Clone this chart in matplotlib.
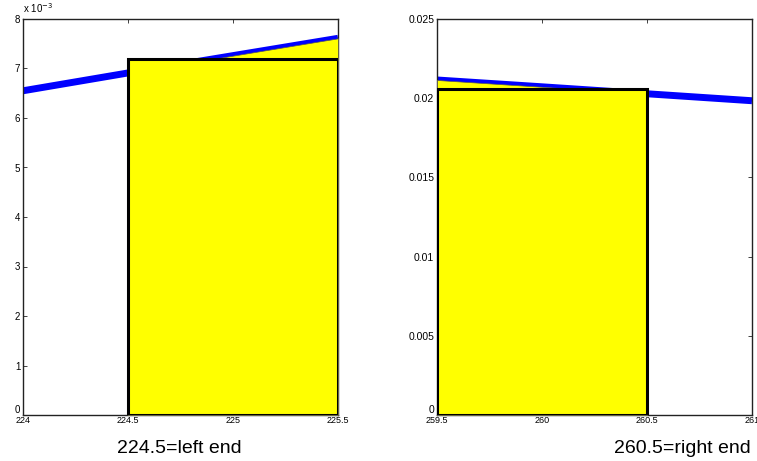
import matplotlib
matplotlib.use("Agg")
import matplotlib.pyplot as plt
from matplotlib.ticker import FixedLocator, FuncFormatter

plt.rcParams['font.family'] = ['Liberation Sans', 'DejaVu Sans']

# ---- data: left panel ----
left_curve_x = [224.0, 224.5, 225.0, 225.5]
left_curve_y = [6.55e-3, 6.91e-3, 7.26e-3, 7.61e-3]
left_bar_lo, left_bar_hi = 224.5, 225.5
left_bar_h = 7.2e-3
left_xticks = [224, 224.5, 225, 225.5]
left_yticks = [0, 1e-3, 2e-3, 3e-3, 4e-3, 5e-3, 6e-3, 7e-3, 8e-3]
left_label = "224.5=left end"

# ---- data: right panel ----
right_curve_x = [259.5, 260.0, 260.5, 261.0]
right_curve_y = [0.02115, 0.02072, 0.02028, 0.01984]
right_bar_lo, right_bar_hi = 259.5, 260.5
right_bar_h = 0.0206
right_xticks = [259.5, 260, 260.5, 261]
right_yticks = [0, 0.005, 0.01, 0.015, 0.02, 0.025]
right_label = "260.5=right end"

fig = plt.figure(figsize=(7.57, 4.61), dpi=100)
W, H = 757, 461

def make_ax(x0, x1, y0, y1):
    return fig.add_axes([x0 / W, (H - y1) / H, (x1 - x0) / W, (y1 - y0) / H])

def style(ax, xticks, yticks, ylim, yfmt, ysize):
    ax.set_xlim(xticks[0], xticks[-1])
    ax.set_ylim(*ylim)
    ax.xaxis.set_major_locator(FixedLocator(xticks))
    ax.yaxis.set_major_locator(FixedLocator(yticks))
    ax.xaxis.set_major_formatter(FuncFormatter(lambda v, p: ('%g' % v)))
    ax.yaxis.set_major_formatter(FuncFormatter(yfmt))
    ax.tick_params(direction='in', top=True, right=True, length=3, width=0.6,
                   color='#222222')
    ax.tick_params(axis='x', labelsize=6.5, pad=1.0)
    ax.tick_params(axis='y', labelsize=ysize, pad=2)
    for s in ax.spines.values():
        s.set_linewidth(1.0)
        s.set_color('#222222')
    fig.canvas.draw()
    ax.get_yticklabels()[0].set_verticalalignment('bottom')

def draw(ax, cx, cy, lo, hi, bh):
    ax.plot(cx, cy, color='#0000ff', lw=5, solid_capstyle='butt', zorder=2)
    fx = [x for x in cx if lo <= x <= hi]
    fy = [y for x, y in zip(cx, cy) if lo <= x <= hi]
    ax.fill_between(fx, 0, fy, facecolor='#ffff00', edgecolor='#555555',
                    lw=0.5, zorder=3)
    ax.bar([(lo + hi) / 2], [bh], width=hi - lo, facecolor='#ffff00',
           edgecolor='black', lw=2.2, zorder=4)

axL = make_ax(23, 338, 19, 415)
draw(axL, left_curve_x, left_curve_y, left_bar_lo, left_bar_hi, left_bar_h)
style(axL, left_xticks, left_yticks, (0, 8e-3),
      lambda v, p: '%g' % round(v * 1000, 6), 7)
fig.text(23 / W, (H - 13) / H, r'x 10$^{-3}$', fontsize=7, ha='left', va='baseline')

axR = make_ax(437, 752, 19, 415)
draw(axR, right_curve_x, right_curve_y, right_bar_lo, right_bar_hi, right_bar_h)
style(axR, right_xticks, right_yticks, (0, 0.025),
      lambda v, p: '%g' % v, 7.5)

fig.text(179 / W, (H - 453) / H, left_label, fontsize=14, ha='center',
         va='baseline')
fig.text(682 / W, (H - 453) / H, right_label, fontsize=14, ha='center',
         va='baseline')

fig.savefig('out.png', dpi=100)
